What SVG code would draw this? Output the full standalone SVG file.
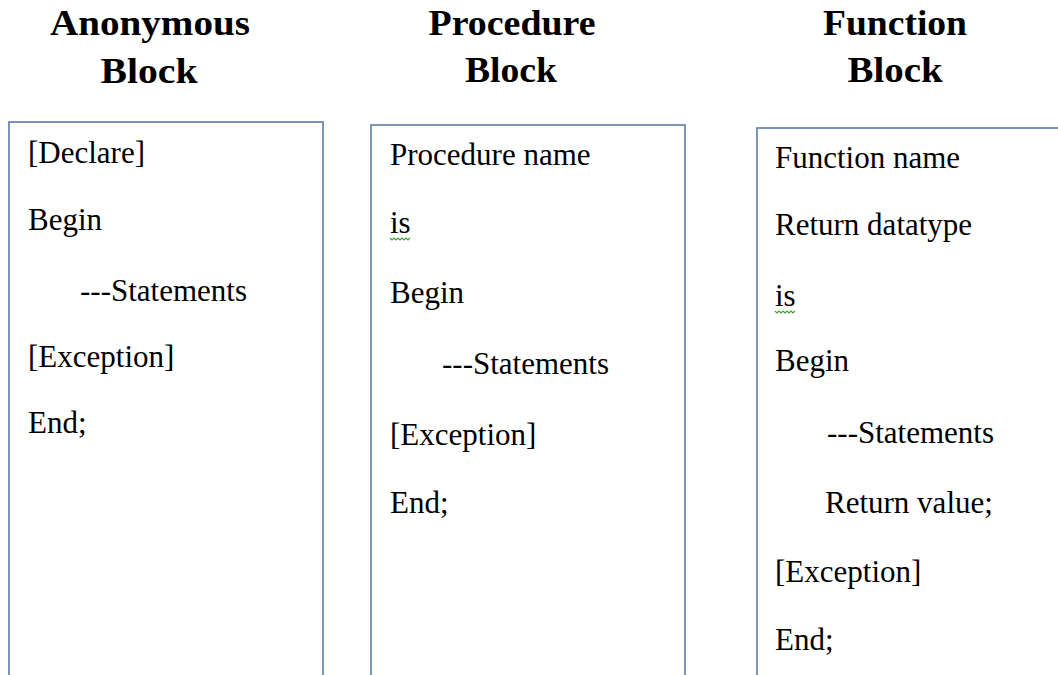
<svg xmlns="http://www.w3.org/2000/svg" width="1058" height="675" viewBox="0 0 1058 675">
<style>
.title{font-family:"Liberation Serif","Times New Roman",serif;font-weight:bold;font-size:35px;fill:#000;text-anchor:middle}
.body{font-family:"Liberation Serif","Times New Roman",serif;font-size:31px;fill:#000}
.box{fill:#fff;stroke:#5a7aab;stroke-width:1.6}
.sq{fill:none;stroke:#3fa03f;stroke-width:1.2}
</style>
<rect width="1058" height="675" fill="#fff"/>
<g id="anonymous">
<text class="title" x="150" y="35" textLength="200" lengthAdjust="spacingAndGlyphs">Anonymous</text>
<text class="title" x="149" y="83" textLength="97" lengthAdjust="spacingAndGlyphs">Block</text>
<rect class="box" x="9" y="122" width="314" height="570"/>
<text class="body" x="28" y="163">[Declare]</text>
<text class="body" x="28" y="230">Begin</text>
<text class="body" x="80" y="301">---Statements</text>
<text class="body" x="28" y="367">[Exception]</text>
<text class="body" x="28" y="433">End;</text>
</g>
<g id="procedure">
<text class="title" x="512" y="35" textLength="167" lengthAdjust="spacingAndGlyphs">Procedure</text>
<text class="title" x="511" y="82" textLength="92" lengthAdjust="spacingAndGlyphs">Block</text>
<rect class="box" x="371" y="125" width="314" height="570"/>
<text class="body" x="390" y="165">Procedure name</text>
<text class="body" x="390" y="233">is</text>
<path class="sq" d="M390,238 l2,2 l2,-2 l2,2 l2,-2 l2,2 l2,-2 l2,2 l2,-2 l2,2 l2,-2"/>
<text class="body" x="390" y="303">Begin</text>
<text class="body" x="442" y="374">---Statements</text>
<text class="body" x="390" y="445">[Exception]</text>
<text class="body" x="390" y="513">End;</text>
</g>
<g id="function">
<text class="title" x="895" y="35" textLength="144" lengthAdjust="spacingAndGlyphs">Function</text>
<text class="title" x="895" y="82" textLength="95" lengthAdjust="spacingAndGlyphs">Block</text>
<rect class="box" x="757" y="128" width="320" height="570"/>
<text class="body" x="775" y="168">Function name</text>
<text class="body" x="775" y="235">Return datatype</text>
<text class="body" x="775" y="306">is</text>
<path class="sq" d="M775,311 l2,2 l2,-2 l2,2 l2,-2 l2,2 l2,-2 l2,2 l2,-2 l2,2 l2,-2"/>
<text class="body" x="775" y="371">Begin</text>
<text class="body" x="827" y="443">---Statements</text>
<text class="body" x="825" y="513">Return value;</text>
<text class="body" x="775" y="582">[Exception]</text>
<text class="body" x="775" y="650">End;</text>
</g>
<g id="connectors"/>
</svg>
